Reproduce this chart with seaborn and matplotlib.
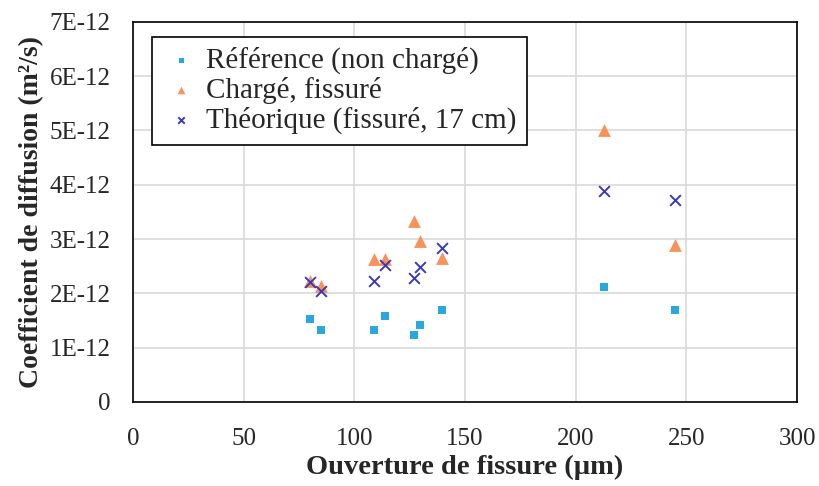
import numpy as np
import pandas as pd
import seaborn as sns
import matplotlib.pyplot as plt
from matplotlib.ticker import MultipleLocator, FuncFormatter


# crack opening (um) of the tested specimens
ouverture = [80, 85, 109, 114, 127, 129.5, 139.5, 213, 245]

# diffusion coefficients (m2/s)
ref = [1.53e-12, 1.33e-12, 1.33e-12, 1.59e-12, 1.24e-12, 1.41e-12, 1.70e-12, 2.12e-12, 1.69e-12]
charge = [2.22e-12, 2.13e-12, 2.64e-12, 2.63e-12, 3.34e-12, 2.96e-12, 2.66e-12, 5.00e-12, 2.89e-12]
theorique = [2.21e-12, 2.04e-12, 2.23e-12, 2.52e-12, 2.29e-12, 2.49e-12, 2.84e-12, 3.88e-12, 3.71e-12]

labels = ['Référence (non chargé)', 'Chargé, fissuré', 'Théorique (fissuré, 17 cm)']


def build_df():
    frames = []
    for lab, vals in zip(labels, [ref, charge, theorique]):
        frames.append(pd.DataFrame({'x': ouverture, 'D': vals, 'serie': lab}))
    df = pd.concat(frames, ignore_index=True)
    # plot in units of 1E-12 so no offset text is created
    df['D12'] = df['D'] * 1e12
    return df


def plot(df):
    sns.set_style('white')
    plt.rcParams['font.family'] = ['Liberation Serif', 'DejaVu Serif']

    fig, ax = plt.subplots(figsize=(8.2, 4.86), dpi=100)
    fig.subplots_adjust(left=0.162, right=0.972, top=0.955, bottom=0.173)

    palette = {labels[0]: '#29a8e0', labels[1]: '#f7935a', labels[2]: '#3a3ab8'}
    markers = {labels[0]: 's', labels[1]: '^', labels[2]: 'x'}
    sizes = {labels[0]: 36, labels[1]: 85, labels[2]: 60}

    for lab in labels:
        sub = df[df.serie == lab]
        sns.scatterplot(data=sub, x='x', y='D12', ax=ax, color=palette[lab],
                        marker=markers[lab], s=sizes[lab], label=lab,
                        linewidth=1.4 if lab == labels[2] else 0, zorder=3)

    ax.set_xlim(0, 300)
    ax.set_ylim(0, 7)
    ax.xaxis.set_major_locator(MultipleLocator(50))
    ax.xaxis.set_minor_locator(MultipleLocator(10))
    ax.yaxis.set_major_locator(MultipleLocator(1))
    ax.yaxis.set_minor_locator(MultipleLocator(0.2))
    ax.yaxis.set_major_formatter(FuncFormatter(
        lambda v, p: '0' if abs(v) < 1e-6 else '%dE-12' % round(v)))

    ax.grid(True, which='major', color='#d9d9d9', linewidth=1.2, zorder=0)
    ax.set_axisbelow(True)
    for sp in ax.spines.values():
        sp.set_color('black')
        sp.set_linewidth(1.2)

    ax.tick_params(which='both', direction='in', length=6, width=1, color='black',
                   labelsize=18)
    ax.tick_params(axis='y', pad=16)
    ax.tick_params(axis='x', pad=19)

    ax.set_xlabel('Ouverture de fissure (µm)', fontsize=20.5, fontweight='bold', labelpad=3)
    ax.set_ylabel('Coefficient de diffusion (m²/s)', fontsize=20, fontweight='bold', labelpad=4)

    leg = ax.legend(loc='upper left', bbox_to_anchor=(0.029, 0.961), fontsize=21,
                    frameon=True, fancybox=False, edgecolor='black', framealpha=1,
                    markerscale=0.6, handletextpad=0.2, borderpad=0.35,
                    labelspacing=0.1, handlelength=1.3, borderaxespad=0)
    leg.get_frame().set_linewidth(1.2)

    fig.savefig('out.png', dpi=100)


if __name__ == "__main__":
    df = build_df()
    plot(df)
